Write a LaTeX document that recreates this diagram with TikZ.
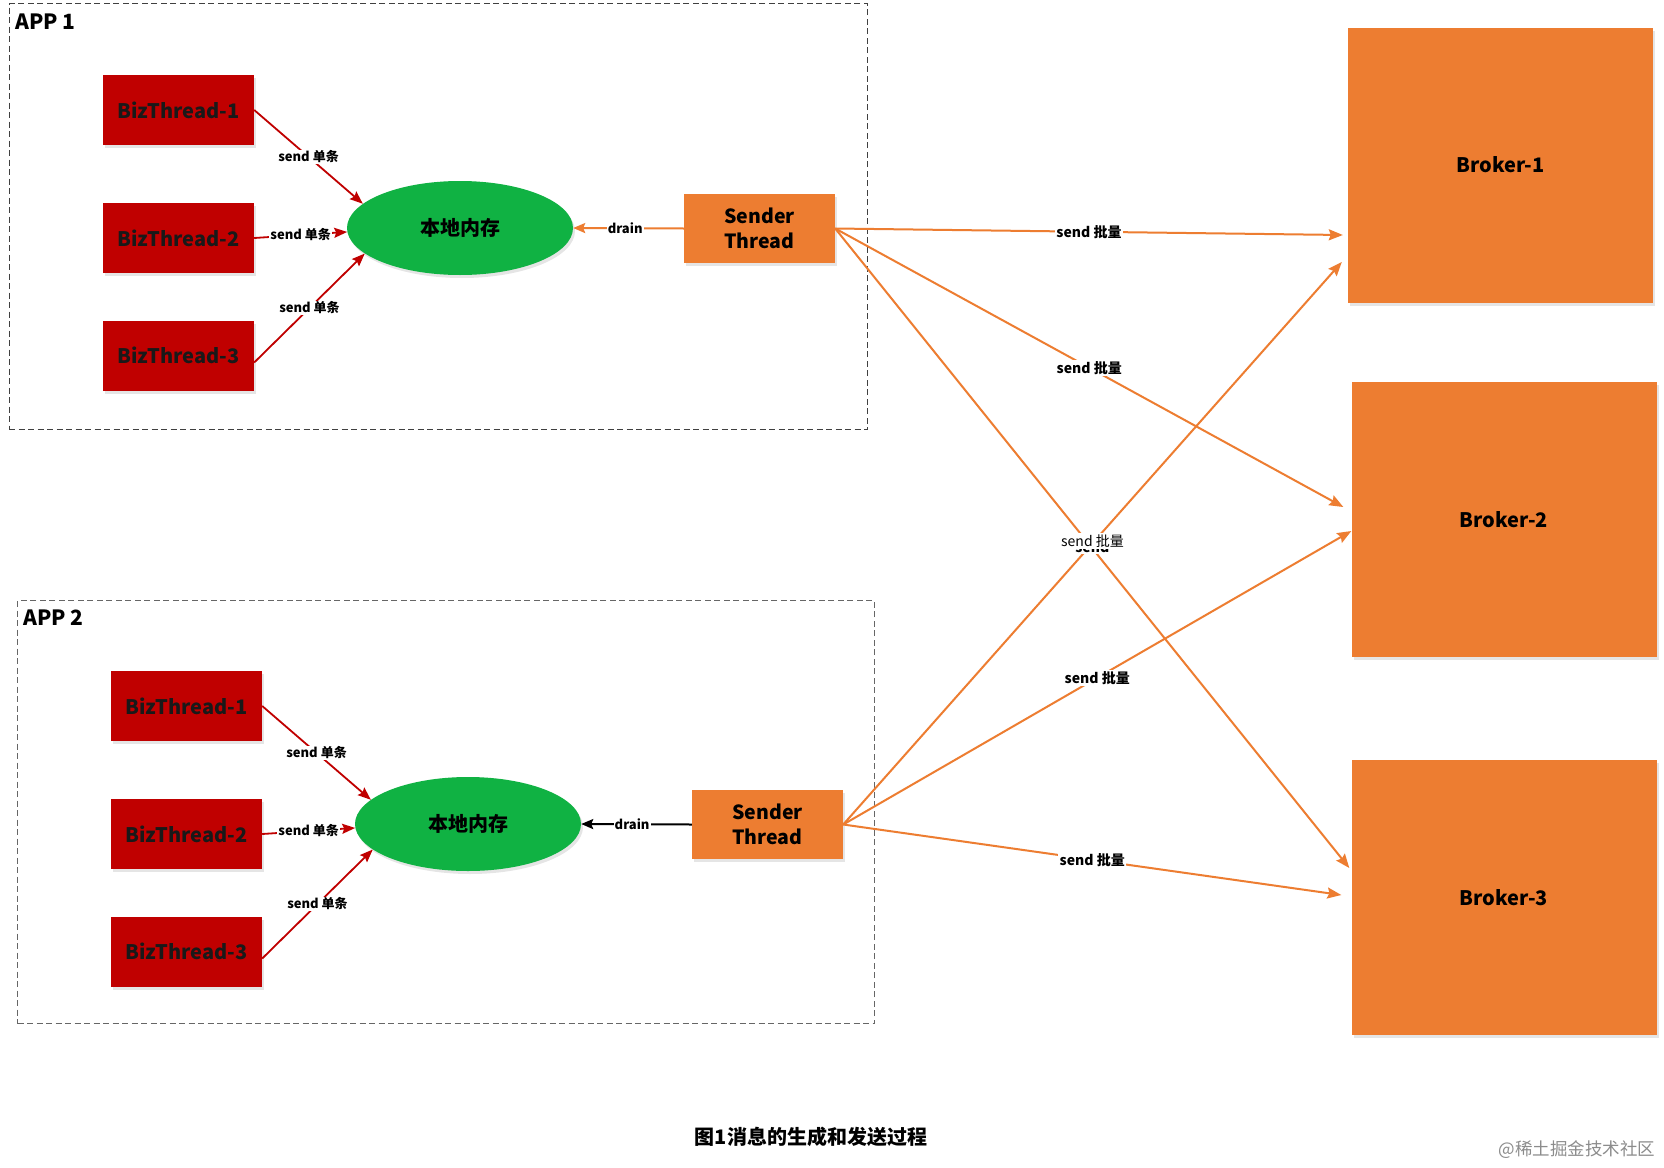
\documentclass[tikz,border=0pt]{standalone}
\usepackage{fontspec}
\setmainfont{Noto Sans CJK SC}
\usetikzlibrary{arrows.meta,shapes.geometric,shadows,calc}
\definecolor{bizred}{HTML}{C00000}
\definecolor{memgreen}{HTML}{10B243}
\definecolor{orng}{HTML}{ED7D31}
\definecolor{wmgray}{HTML}{8C8C8C}
\begin{document}
\begin{tikzpicture}[x=1pt,y=-1pt,
  softshadow/.style={drop shadow={shadow xshift=2pt,shadow yshift=-3pt,fill=black,opacity=0.10}},
  appbox/.style={draw=black!75,dashed,dash pattern=on 6pt off 3.5pt,line width=1.2pt},
  applabel/.style={anchor=north west,inner sep=0pt,font=\fontsize{21}{24}\selectfont\bfseries},
  biz/.style={fill=bizred,softshadow,minimum width=151pt,minimum height=70pt,inner sep=0pt,
    font=\fontsize{20}{24}\selectfont\bfseries,text=black!90},
  mem/.style={ellipse,fill=memgreen,softshadow,minimum width=226pt,minimum height=94pt,inner sep=0pt,
    font=\fontsize{20}{24}\selectfont\bfseries},
  sender/.style={fill=orng,softshadow,minimum width=151pt,minimum height=69pt,inner sep=0pt,align=center,
    font=\fontsize{19.5}{24.5}\selectfont\bfseries},
  broker/.style={fill=orng,softshadow,minimum width=305pt,minimum height=275pt,inner sep=0pt,
    font=\fontsize{20}{24}\selectfont\bfseries},
  redarr/.style={draw=bizred,line width=1.8pt,-{Stealth[length=13pt,width=10pt,inset=2pt]}},
  orarr/.style={draw=orng,line width=2pt,-{Stealth[length=14pt,width=11pt,inset=2pt]}},
  drainarr/.style={line width=2pt,-{Stealth[length=12pt,width=10pt,inset=2pt]}},
  small/.style={fill=white,inner sep=1.2pt,font=\fontsize{13}{15}\selectfont\bfseries},
  batch/.style={fill=white,inner sep=1.5pt,font=\fontsize{14}{16}\selectfont\bfseries},
]
\useasboundingbox (0,0) rectangle (1664,1167);
\fill[white] (0,0) rectangle (1664,1167);

% ---------------- APP 1 ----------------
\node[appbox,draw,minimum width=858.5pt,minimum height=426pt,inner sep=0pt,anchor=north west] (app1) at (8.5,3) {};
\node[applabel] (app1l) at (15,14) {APP 1};
\node[biz] (a1b1) at (178.5,110) {BizThread-1};
\node[biz] (a1b2) at (178.5,238) {BizThread-2};
\node[biz] (a1b3) at (178.5,355.5) {BizThread-3};
\node[mem] (a1m) at (460,228) {本地内存};
\node[sender] (a1s) at (759.5,228.5) {Sender\\Thread};
\draw[redarr] (a1b1.east) -- node[small] {send 单条} (a1m.166.9);
\draw[redarr] (a1b2.east) -- node[small] {send 单条} (a1m.182);
\draw[redarr] ($(a1b3.east)+(0,7)$) -- node[small] {send 单条} (a1m.195);
\draw[drainarr,draw=orng] (a1s.west) -- node[small,pos=0.53] {drain} (a1m.east);

% ---------------- APP 2 ----------------
\node[appbox,draw=black!60,minimum width=857pt,minimum height=423pt,inner sep=0pt,anchor=north west] (app2) at (17,600) {};
\node[applabel] (app2l) at (23,610) {APP 2};
\node[biz] (a2b1) at (186.5,706) {BizThread-1};
\node[biz] (a2b2) at (186.5,834) {BizThread-2};
\node[biz] (a2b3) at (186.5,951.5) {BizThread-3};
\node[mem] (a2m) at (468,824) {本地内存};
\node[sender] (a2s) at (767.5,824.5) {Sender\\Thread};
\draw[redarr] (a2b1.east) -- node[small] {send 单条} (a2m.166.9);
\draw[redarr] (a2b2.east) -- node[small] {send 单条} (a2m.182);
\draw[redarr] ($(a2b3.east)+(0,7)$) -- node[small] {send 单条} (a2m.195);
\draw[drainarr,draw=black] (a2s.west) -- node[small,pos=0.54] {drain} (a2m.east);

% ---------------- Brokers ----------------
\node[broker] (br1) at (1500.5,165) {Broker-1};
\node[broker] (br2) at (1504,519.5) {Broker-2};
\node[broker] (br3) at (1504,897.5) {Broker-3};

% ---------------- batch sends ----------------
\draw[orarr] (a1s.east) -- ($(br1.west)+(-5,70)$) coordinate[pos=0.5] (m11);
\draw[orarr] (a1s.east) -- ($(br2.west)+(-8,-12.5)$) coordinate[pos=0.5] (m12);
\draw[orarr] (a1s.east) -- ($(br3.west)+(-2,-29.5)$) coordinate[pos=0.5] (m13);
\draw[orarr] (a2s.east) -- ($(br1.west)+(-6,97)$) coordinate[pos=0.5] (m21);
\draw[orarr] (a2s.east) -- ($(br2.west)+(0,11.5)$) coordinate[pos=0.5] (m22);
\draw[orarr] (a2s.east) -- ($(br3.west)+(-10,-2.5)$) coordinate[pos=0.5] (m23);
\node[batch] (l11) at (m11) {send 批量};
\node[batch] (l12) at (m12) {send 批量};
\node[batch] (l13) at ($(m13)+(0,-1)$) {send};
\node[fill=white,inner sep=1.5pt,font=\fontsize{14}{16}\selectfont] (l21) at ($(m21)+(0,-2)$) {send 批量};
\node[batch] (l22) at (m22) {send 批量};
\node[batch] (l23) at (m23) {send 批量};

% ---------------- caption ----------------
\node[font=\fontsize{20}{24}\selectfont\bfseries] (cap) at (811,1137) {图1消息的生成和发送过程};
\node[anchor=east,text=wmgray,font=\fontsize{17.5}{20}\selectfont] (wm) at (1659,1150) {@稀土掘金技术社区};
\end{tikzpicture}
\end{document}
